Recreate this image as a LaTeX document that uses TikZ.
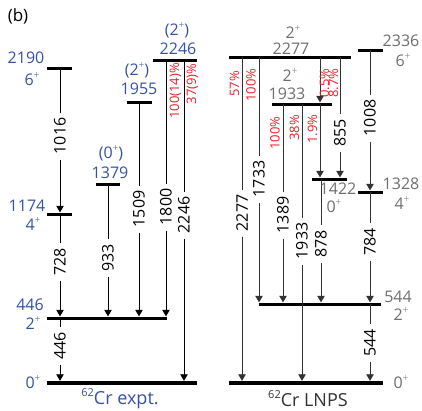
\documentclass[tikz,border=0pt]{standalone}
\usepackage{fontspec}
\setmainfont{Open Sans}
\usetikzlibrary{arrows.meta}
\definecolor{cblue}{RGB}{52,82,164}
\definecolor{cgray}{RGB}{110,110,110}
\definecolor{cred}{RGB}{235,30,40}
\definecolor{cline}{RGB}{50,50,50}
\newcommand\pls[1][cgray]{\raisebox{0.42em}{\color{#1!70}\fontsize{10}{10}\selectfont +}}
\begin{document}
\begin{tikzpicture}[x=1pt,y=-1pt,
  lev/.style={fill=black, inner sep=0pt, minimum height=3pt, minimum width=#1},
  glev/.style={fill=black, inner sep=0pt, minimum height=4pt, minimum width=#1},
  ln/.style={line width=0.8pt, draw=#1},
  ln/.default=black,
  tr/.style={ln=#1, -{Triangle[length=6.5pt,width=7.5pt]}},
  tr/.default=black,
  tl/.style={rotate=90, inner xsep=5pt, inner ysep=1pt, font=\fontsize{16}{16}\selectfont},
  rl/.style={rotate=90, inner sep=0pt, text=cred, font=\fontsize{13}{13}\selectfont},
  bl/.style={inner sep=0pt, text=cblue, font=\fontsize{16}{16}\selectfont},
  gl/.style={inner sep=0pt, text=cgray, font=\fontsize{16}{16}\selectfont},
  ttl/.style={inner sep=0pt, font=\fontsize{18}{18}\selectfont},
]
\useasboundingbox (0,0) rectangle (422,410);
\node[inner sep=0pt, font=\fontsize{17}{17}\selectfont] (lab) at (18,16) {(b)};
\node[inner sep=0pt, font=\fontsize{16}{16}\selectfont, text=cline] (cut) at (-4,391) {0};

% ---------------- left: 62Cr expt. ----------------
\node[glev=150] (e0)    at (122,383) {};
\node[lev=120]  (e446)  at (107,318) {};
\node[lev=25]   (e1174) at (59.5,214) {};
\node[lev=25]   (e2190) at (59.5,68) {};
\node[lev=24]   (e1379) at (108,184) {};
\node[lev=25]   (e1955) at (139.5,102) {};
\node[lev=44]   (e2246) at (175,60) {};

\node[tl] (t1016) at (60,136) {1016};
\node[tl] (t728)  at (60,262) {728};
\node[tl] (t446)  at (60,346) {446};
\node[tl] (t933)  at (108,258) {933};
\node[tl] (t1509) at (139,209) {1509};
\node[tl] (t1800) at (166,207) {1800};
\node[tl] (t2246) at (184,215) {2246};

\draw[ln] (e2190 -| t1016) -- (t1016);
\draw[tr] (t1016) -- (e1174.north -| t1016);
\draw[ln] (e1174 -| t728) -- (t728);
\draw[tr] (t728) -- (e446.north -| t728);
\draw[ln] (e446 -| t446) -- (t446);
\draw[tr] (t446) -- (e0.north -| t446);
\draw[ln] (e1379 -| t933) -- (t933);
\draw[tr] (t933) -- (e446.north -| t933);
\draw[ln] (e1955 -| t1509) -- (t1509);
\draw[tr] (t1509) -- (e446.north -| t1509);
\draw[ln] (e2246 -| t1800) -- (t1800);
\draw[tr] (t1800) -- (e446.north -| t1800);
\draw[ln] (e2246 -| t2246) -- (t2246);
\draw[tr] (t2246) -- (e0.north -| t2246);

\node[rl] (r1800) at (175.5,91) {100(14)\%};
\node[rl] (r2246) at (192.5,84) {37(9)\%};

\node[bl] (n2190) at (26,58) {2190};
\node[bl] (s2190) at (32,79) {6\pls[cblue]};
\node[bl] (n1174) at (27,206) {1174};
\node[bl] (s1174) at (33,224) {4\pls[cblue]};
\node[bl] (s1379) at (111,153) {(0\pls[cblue])};
\node[bl] (n1379) at (110,173) {1379};
\node[bl] (s1955) at (137,70) {(2\pls[cblue])};
\node[bl] (n1955) at (139,89) {1955};
\node[bl] (s2246) at (177,30) {(2\pls[cblue])};
\node[bl] (n2246) at (178,49) {2246};
\node[bl] (n446)  at (30,304.5) {446};
\node[bl] (s446)  at (33,323) {2\pls[cblue]};
\node[bl] (s0e)   at (33,382) {0\pls[cblue]};
\node[ttl, text=cblue] (tite) at (120,399) {\raisebox{0.45em}{\fontsize{11}{11}\selectfont 62}Cr expt.};

% ---------------- right: 62Cr LNPS ----------------
\node[glev=154] (p0)    at (306,383) {};
\node[lev=122]  (p544)  at (320,304) {};
\node[lev=122]  (p2277) at (290,57) {};
\node[lev=60]   (p1933) at (302,104) {};
\node[lev=35]   (p1422) at (329.5,179) {};
\node[lev=25]   (p1328) at (370.5,192) {};
\node[lev=25]   (p2336) at (370.5,50) {};

\node[tl] (u2277) at (242,213) {2277};
\node[tl] (u1733) at (259,179) {1733};
\node[tl] (u1389) at (283,215) {1389};
\node[tl] (u1933) at (302,241) {1933};
\node[tl] (u878)  at (321,244) {878};
\node[tl] (u855)  at (340,133) {855};
\node[tl] (u1008) at (370,118) {1008};
\node[tl] (u784)  at (370,242) {784};
\node[tl] (u544)  at (370,343) {544};
\coordinate (xmid) at (320,0);

\draw[ln=cline] (p2277 -| u2277) -- (u2277);
\draw[tr=cline] (u2277) -- (p0.north -| u2277);
\draw[ln=cline] (p2277 -| u1733) -- (u1733);
\draw[tr=cline] (u1733) -- (p544.north -| u1733);
\draw[ln=cline] (p1933 -| u1389) -- (u1389);
\draw[tr=cline] (u1389) -- (p544.north -| u1389);
\draw[ln=cline] (p1933 -| u1933) -- (u1933);
\draw[tr=cline] (u1933) -- (p0.north -| u1933);
\draw[tr=cline] (p2277 -| xmid) -- (p1933.north -| xmid);
\draw[tr=cline] (p1933 -| xmid) -- (p1422.north -| xmid);
\draw[ln=cline] (p1422 -| u878) -- (u878);
\draw[tr=cline] (u878) -- (p544.north -| u878);
\draw[ln=cline] (p2277 -| u855) -- (u855);
\draw[tr=cline] (u855) -- (p1422.north -| u855);
\draw[ln=cline] (p2336 -| u1008) -- (u1008);
\draw[tr=cline] (u1008) -- (p1328.north -| u1008);
\draw[ln=cline] (p1328 -| u784) -- (u784);
\draw[tr=cline] (u784) -- (p544.north -| u784);
\draw[ln=cline] (p544 -| u544) -- (u544);
\draw[tr=cline] (u544) -- (p0.north -| u544);

\node[rl] (q57)  at (234.5,84) {57\%};
\node[rl] (q100a) at (251,85) {100\%};
\node[rl] (q05)  at (324.5,83) {0.5\%};
\node[rl] (q87)  at (333.5,83) {8.7\%};
\node[rl] (q100b) at (275,133) {100\%};
\node[rl] (q38)  at (294.5,128) {38\%};
\node[rl] (q19)  at (312.5,129) {1.9\%};

\node[gl] (g2277s) at (293,32) {2\pls};
\node[gl] (g2277)  at (291,49) {2277};
\node[gl] (g1933s) at (290,75) {2\pls};
\node[gl] (g1933)  at (287,94) {1933};
\node[gl] (g2336)  at (401,41) {2336};
\node[gl] (g2336s) at (403,60) {6\pls};
\node[gl] (g1422)  at (338,189) {1422};
\node[gl] (g1422s) at (334,206) {0\pls};
\node[gl] (g1328)  at (401,184) {1328};
\node[gl] (g1328s) at (402,203) {4\pls};
\node[gl] (g544)   at (398,297) {544};
\node[gl] (g544s)  at (401,314) {2\pls};
\node[gl] (g0)     at (401,382) {0\pls};
\node[ttl, text=cline] (titp) at (308,399) {\raisebox{0.45em}{\fontsize{11}{11}\selectfont 62}Cr LNPS};
\end{tikzpicture}
\end{document}
